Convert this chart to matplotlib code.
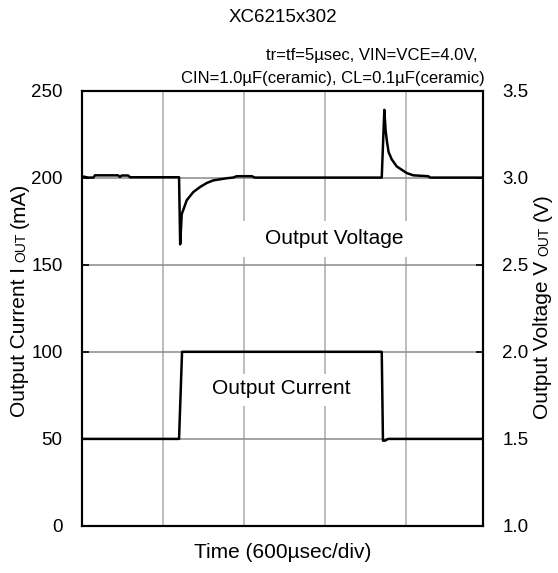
import matplotlib
matplotlib.use("Agg")
import matplotlib.pyplot as plt
import matplotlib.transforms as mtransforms
from matplotlib.patches import Rectangle

plt.rcParams['font.family'] = ['Liberation Sans', 'DejaVu Sans']

# time axis in divisions (600 usec/div)
volt_t = [0.0, 0.016, 0.078, 0.14, 0.16, 0.444, 0.469, 0.49, 0.57, 0.593,
          1.198, 1.212, 1.231, 1.293, 1.374, 1.457, 1.54, 1.62, 1.70, 1.80,
          1.864, 1.91, 2.095, 2.136, 3.70, 3.732, 3.748, 3.765, 3.785, 3.823,
          3.885, 3.947, 4.009, 4.09, 4.275, 4.296, 4.95]
volt_v = [3.004, 3.006, 3.0, 3.0, 3.013, 3.013, 3.004, 3.012, 3.012, 3.002,
          3.002, 2.617, 2.79, 2.87, 2.917, 2.946, 2.969, 2.984, 2.99, 2.997,
          3.0, 3.008, 3.008, 3.0, 3.0, 3.389, 3.27, 3.205, 3.146, 3.105,
          3.064, 3.045, 3.026, 3.013, 3.008, 3.0, 3.0]

curr_t = [0.0, 1.198, 1.235, 3.70, 3.715, 3.74, 3.78, 4.95]
curr_v = [50, 50, 100, 100, 49, 49, 50, 50]

left_ticks = [0, 50, 100, 150, 200, 250]
right_ticks = [1.0, 1.5, 2.0, 2.5, 3.0, 3.5]

W, H = 558, 573
fig = plt.figure(figsize=(W / 100, H / 100), dpi=100)
ax = fig.add_axes([82 / W, 1 - 526 / H, (483 - 82) / W, (526 - 90.5) / H])
ax2 = ax.twinx()

ax.set_xlim(0, 4.95)
ax.set_ylim(0, 250)
ax2.set_ylim(1.0, 3.5)
ax.set_xticks([1, 2, 3, 4])
ax.set_yticks(left_ticks)
ax2.set_yticks(right_ticks)
ax2.set_yticklabels(['%.1f' % v for v in right_ticks])

ax.tick_params(axis='x', length=0, labelbottom=False)
ax.tick_params(axis='y', direction='in', length=5, width=1.2, pad=14,
               labelsize=13.5)
ax2.tick_params(axis='y', direction='in', length=5, width=1.2, pad=14,
                labelsize=13.5)

for x in [1, 2, 3, 4]:
    ax.axvline(x, color='#ababab', lw=1.1, zorder=1)
for y in [50, 100, 150, 200]:
    ax.axhline(y, color='#8a8a8a', lw=1.1, zorder=1)

for a in (ax, ax2):
    for s in a.spines.values():
        s.set_linewidth(1.5)
        s.set_color('black')

ax2.plot(volt_t, volt_v, color='black', lw=1.8, zorder=4)
ax.plot(curr_t, curr_v, color='black', lw=1.8, zorder=4)

# white boxes behind the two captions (they cut the grid)
ax.add_patch(Rectangle((1.95, 154.5), 2.1, 20.5, fc='white', ec='none',
                       zorder=2))
ax.add_patch(Rectangle((1.46, 69), 2.03, 18.5, fc='white', ec='none',
                       zorder=2))
ax.text(3.117, 165, 'Output Voltage', fontsize=15, ha='center', va='center',
        zorder=3)
ax.text(2.463, 79, 'Output Current', fontsize=15, ha='center', va='center',
        zorder=3)

px = mtransforms.IdentityTransform()
fig.text(283, H - 18, 'XC6215x302', fontsize=13.5, ha='center', va='center',
         transform=px)
fig.text(477, H - 60, 'tr=tf=5\u00b5sec, VIN=VCE=4.0V,', fontsize=12,
         ha='right', va='baseline', transform=px)
fig.text(485, H - 83.5, 'CIN=1.0\u00b5F(ceramic), CL=0.1\u00b5F(ceramic)',
         fontsize=12, ha='right', va='baseline', transform=px)
fig.text(283, H - 553, 'Time (600\u00b5sec/div)', fontsize=15, ha='center',
         va='center', transform=px)


def vlabel(x_base, y_center, parts, gap=5):
    # rotated label built from pieces so "OUT" can be smaller
    r = fig.canvas.get_renderer()
    items = []
    for s, size in parts:
        t = fig.text(0, 0, s, fontsize=size, rotation=90,
                     rotation_mode='anchor', ha='left', va='baseline',
                     transform=px)
        items.append((t, t.get_window_extent(r).height))
    total = sum(h for _, h in items) + gap * (len(items) - 1)
    y = H - y_center - total / 2
    for t, h in items:
        t.set_position((x_base, y))
        y += h + gap


vlabel(25, 300, [('Output Current I', 15), ('OUT', 10), ('(mA)', 15)])
vlabel(548, 306, [('Output Voltage V', 15), ('OUT', 10), ('(V)', 15)])

fig.savefig('out.png', dpi=100)
